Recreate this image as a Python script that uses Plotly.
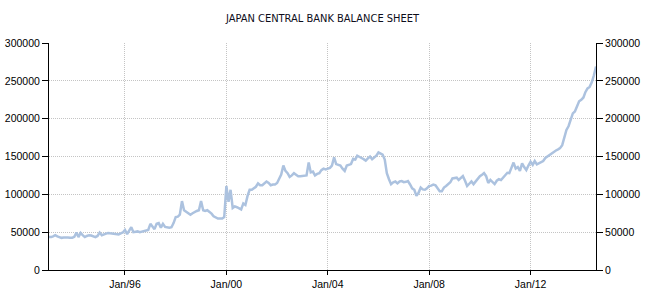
import pandas as pd
import plotly.graph_objects as go

title = "JAPAN CENTRAL BANK BALANCE SHEET"
start_month = "1993-01-01"

y1993 = [43500, 43500, 44500, 46000, 44500, 43000, 42500, 43000, 43500, 43000, 42500, 42500]
y1994 = [44000, 49500, 43500, 49000, 46000, 43500, 45000, 46000, 45500, 44500, 43500, 45000]
y1995 = [49500, 46000, 47000, 47500, 49000, 48500, 48000, 48000, 47500, 47000, 48500, 49500]
y1996 = [53000, 47500, 52000, 56500, 50000, 51000, 51000, 50000, 51000, 52000, 52500, 53000]
y1997 = [61000, 57000, 54000, 61000, 62000, 56000, 61000, 57000, 56000, 56000, 56500, 62000]
y1998 = [70000, 70500, 73000, 91000, 79000, 77000, 76000, 73000, 75000, 77000, 78000, 79000]
y1999 = [91000, 79000, 78000, 79000, 77000, 74500, 71000, 69000, 68000, 68000, 68000, 70000]
y2000 = [111000, 90000, 106000, 82000, 84000, 83000, 81000, 80000, 88000, 86000, 98000, 106000]
y2001 = [106000, 108000, 110000, 114500, 112000, 112000, 115000, 117000, 115000, 112000, 113000, 113000]
y2002 = [115000, 121000, 126000, 138000, 131000, 128000, 123000, 125000, 128000, 126000, 124000, 124000]
y2003 = [124000, 124000, 125000, 142000, 129000, 130000, 125000, 127000, 128000, 132000, 134000, 133000]
y2004 = [134000, 135000, 138000, 149000, 140000, 139000, 138000, 134000, 131000, 138000, 139000, 140000]
y2005 = [147000, 146000, 151000, 149000, 148000, 146500, 144500, 147500, 150000, 146500, 149000, 151000]
y2006 = [155500, 154000, 152500, 146000, 128000, 120000, 113500, 116000, 117000, 114500, 117000, 117500]
y2007 = [116000, 116500, 117500, 113000, 108000, 106000, 98000, 102000, 109000, 106500, 106000, 108000]
y2008 = [111000, 111500, 113000, 112000, 108000, 104000, 104000, 109000, 111000, 113000, 116000, 121000]
y2009 = [122000, 122000, 119000, 122000, 124000, 118000, 111000, 114000, 117000, 113500, 117000, 121000]
y2010 = [124000, 126000, 128000, 124000, 115000, 119000, 116000, 113500, 118000, 120000, 119000, 122000]
y2011 = [126000, 128500, 128000, 136000, 142000, 134000, 136000, 131000, 141000, 136000, 132000, 138000]
y2012 = [143000, 139000, 144000, 139500, 141000, 143000, 144000, 148000, 150000, 152000, 154500, 157000]
y2013 = [158000, 159500, 161000, 165000, 174000, 185000, 190000, 199000, 207000, 209500, 217000, 223000]
y2014 = [225000, 228000, 235000, 240000, 242000, 248000, 257000, 269000]

x_tick_dates = ["1996-01-01", "2000-01-01", "2004-01-01", "2008-01-01", "2012-01-01"]
x_tick_labels = ["Jan/96", "Jan/00", "Jan/04", "Jan/08", "Jan/12"]
y_ticks = [0, 50000, 100000, 150000, 200000, 250000, 300000]

values = (y1993 + y1994 + y1995 + y1996 + y1997 + y1998 + y1999 + y2000 + y2001 + y2002
          + y2003 + y2004 + y2005 + y2006 + y2007 + y2008 + y2009 + y2010 + y2011
          + y2012 + y2013 + y2014)
dates = pd.date_range(start_month, periods=len(values), freq="MS")

line_color = "#acc2df"
grid_color = "#c4c4c4"
grid_dash = "1px,1px"
tick_font = dict(family="Liberation Sans, Arial, sans-serif", size=10.5, color="#000000")

fig = go.Figure()
fig.add_trace(go.Scatter(x=dates, y=values, mode="lines",
                         line=dict(color=line_color, width=2.5), showlegend=False,
                         hoverinfo="x+y"))
fig.add_trace(go.Scatter(x=dates, y=values, mode="lines", yaxis="y2",
                         line=dict(color="rgba(0,0,0,0)", width=0), showlegend=False,
                         hoverinfo="skip"))

fig.update_layout(
    width=659, height=301,
    margin=dict(l=49, r=63, t=43, b=31, autoexpand=False),
    paper_bgcolor="white", plot_bgcolor="white",
    title=dict(text=title, x=0.5, xanchor="center", xref="paper",
               y=(301 - 18) / 301, yref="container", yanchor="middle",
               font=dict(family="DejaVu Sans Condensed, DejaVu Sans, sans-serif", size=11, color="#0d0d1a")),
    xaxis=dict(
        type="date", range=[dates[0], dates[-1]], automargin=False,
        tickvals=x_tick_dates, ticktext=x_tick_labels,
        showgrid=True, gridcolor=grid_color, griddash=grid_dash, gridwidth=1,
        showline=True, linecolor="black", linewidth=1,
        ticks="outside", ticklen=4, tickcolor="black",
        tickfont=tick_font, zeroline=False, fixedrange=True,
    ),
    yaxis=dict(
        range=[0, 300000], tickvals=y_ticks, tickformat="d", automargin=False,
        showgrid=True, gridcolor=grid_color, griddash=grid_dash, gridwidth=1,
        showline=True, linecolor="black", linewidth=1,
        ticks="outside", ticklen=6, tickcolor="black",
        tickfont=tick_font, zeroline=False, fixedrange=True,
    ),
    yaxis2=dict(
        range=[0, 300000], tickvals=y_ticks, tickformat="d", automargin=False,
        overlaying="y", side="right", showgrid=False,
        showline=True, linecolor="black", linewidth=1,
        ticks="outside", ticklen=6, tickcolor="black",
        tickfont=tick_font, zeroline=False, fixedrange=True,
    ),
)

fig.write_html("out.html")
